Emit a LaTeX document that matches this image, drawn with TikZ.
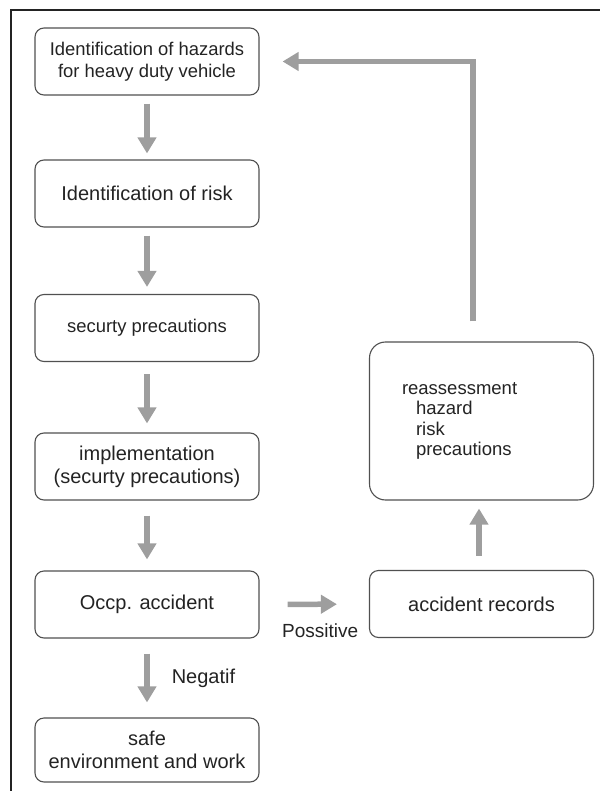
\documentclass[tikz,border=0pt]{standalone}
\usepackage{fontspec}
\setmainfont{Liberation Sans}
\usetikzlibrary{arrows.meta}
\definecolor{flowgray}{RGB}{158,158,158}
\definecolor{boxline}{RGB}{80,80,80}
\definecolor{inkgray}{RGB}{35,35,35}

\begin{document}
\begin{tikzpicture}[x=1pt,y=-1pt,
    stagebox/.style={draw=boxline, line width=1.1pt, rounded corners=9pt, text=inkgray,
        minimum width=224pt, minimum height=67pt, align=center, inner sep=2pt,
        font=\fontsize{20}{23}\selectfont},
    smalltext/.style={font=\fontsize{18.4}{22}\selectfont},
    reassbox/.style={stagebox, rounded corners=16pt, minimum height=158pt,
        text width=159pt, inner xsep=32pt, align=left,
        font=\fontsize{18.5}{20.5}\selectfont},
    flow/.style={draw=flowgray, line width=5.5pt, -{Triangle[length=16pt,width=18pt]}},
    flowlabel/.style={inner sep=0pt, text=inkgray}
]
    \useasboundingbox (0,0) rectangle (599,791);
    % frame
    \draw[line width=2.5pt, draw=inkgray] (11,795) -- (11,10) -- (603,10);

    % left column
    \node[stagebox, smalltext] (hazid) at (147,61.5) {Identification of hazards\\for heavy duty vehicle};
    \node[stagebox] (riskid) at (147,193.5) {Identification of risk};
    \node[stagebox, smalltext] (secur) at (147,328) {securty precautions};
    \node[stagebox] (impl) at (147,466.5) {implementation\\(securty precautions)};
    \node[stagebox] (accid) at (147,604.5) {Occp. accident};
    \node[stagebox, minimum height=64pt] (safe) at (147,750) {safe\\environment and work};

    % right column
    \node[stagebox] (record) at (481.5,604) {accident records};
    \node[reassbox] (reass) at (481.5,421) {reassessment\\\hspace*{14pt}hazard\\\hspace*{14pt}risk\\\hspace*{14pt}precautions};

    % arrows
    \draw[flow, shorten <=8pt, shorten >=6pt] (hazid) -- (riskid);
    \draw[flow, shorten <=8pt, shorten >=7pt] (riskid) -- (secur);
    \draw[flow, shorten <=12pt, shorten >=9pt] (secur) -- (impl);
    \draw[flow, shorten <=15pt, shorten >=11pt] (impl) -- (accid);
    \draw[flow, shorten <=15pt, shorten >=15pt] (accid) -- node[flowlabel, right=22pt, font=\fontsize{20}{23}\selectfont] {Negatif} (safe);
    \draw[flow, shorten <=28pt, shorten >=32pt] (accid) -- node[flowlabel, below=17pt, xshift=6pt, font=\fontsize{19}{22}\selectfont] {Possitive} (record);
    \draw[flow, shorten <=14pt, shorten >=8pt] ([xshift=-2.5pt]record.north) -- ([xshift=-2.5pt]reass.south);
    \draw[flow, shorten <=20pt, shorten >=23pt] ([xshift=-8.5pt]reass.north) |- (hazid.east);
\end{tikzpicture}
\end{document}
